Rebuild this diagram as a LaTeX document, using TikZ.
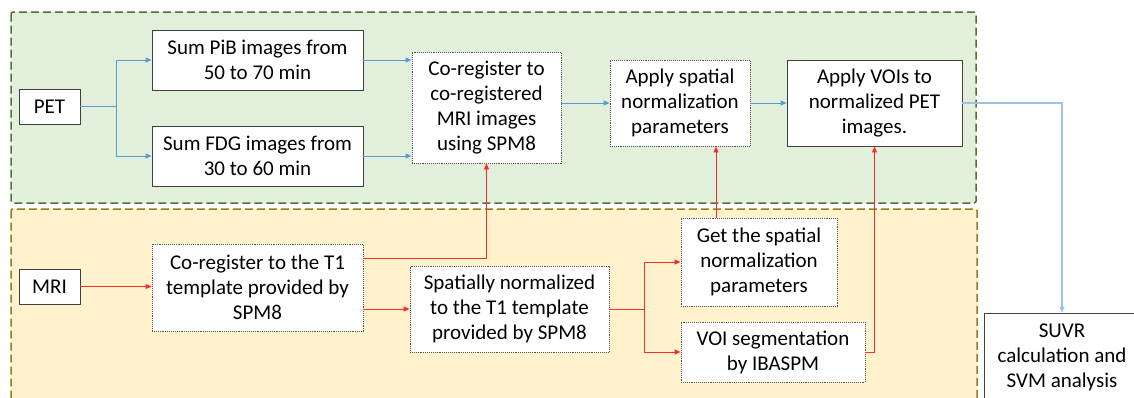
\documentclass[tikz,border=0pt]{standalone}
\usepackage{fontspec}
\setmainfont{Carlito}
\usetikzlibrary{arrows.meta}
\definecolor{bl}{HTML}{5B9BD5}
\definecolor{bllight}{HTML}{9DC3E6}
\definecolor{rd}{HTML}{FF2A2A}
\definecolor{gfill}{HTML}{E2EFDA}
\definecolor{gline}{HTML}{4F7330}
\definecolor{yfill}{HTML}{FFF2CC}
\definecolor{yline}{HTML}{9C7A1E}
\definecolor{bord}{HTML}{404040}
\tikzset{
  solidbox/.style={draw=bord, line width=0.9pt, fill=white, inner sep=0pt, align=center, font=\fontsize{21}{25}\selectfont},
  dotbox/.style={solidbox, draw=bord!90, densely dotted},
  region/.style={line width=1.5pt, dash pattern=on 8pt off 4pt, rounded corners=1.5pt},
  bluearrow/.style={draw=bl, line width=0.9pt, -{Triangle[length=6pt,width=5pt]}},
  redarrow/.style={draw=rd, line width=0.9pt, -{Triangle[length=6pt,width=5pt]}},
}
\begin{document}
\begin{tikzpicture}[x=1pt,y=-1pt]
\clip (0,0) rectangle (1134,397);
\fill[white] (0,0) rectangle (1134,397);
% regions
\draw[region, draw=gline, fill=gfill] (11,12) rectangle (976,203);
\draw[region, draw=yline, fill=yfill] (11,209) rectangle (977,410);
% nodes
\node[solidbox, minimum width=61pt, minimum height=35pt] (pet) at (49.5,106.5) {PET};
\node[solidbox, minimum width=211pt, minimum height=60pt] (pib) at (257.5,60) {Sum PiB images from\\50 to 70 min};
\node[solidbox, minimum width=211pt, minimum height=60pt] (fdg) at (257.5,156) {Sum FDG images from\\30 to 60 min};
\node[dotbox, minimum width=149pt, minimum height=111pt] (coreg) at (486.5,107.5) {Co-register to\\co-registered\\MRI images\\using SPM8};
\node[dotbox, minimum width=140pt, minimum height=86pt] (apply) at (680,103) {Apply spatial\\normalization\\parameters};
\node[solidbox, minimum width=175pt, minimum height=86pt] (vois) at (874.5,103) {Apply VOIs to\\normalized PET\\images.};
\node[solidbox, minimum width=156pt, minimum height=88pt] (suvr) at (1062,357) {SUVR\\calculation and\\SVM analysis};
\node[solidbox, minimum width=61pt, minimum height=35pt] (mri) at (49.5,286.5) {MRI};
\node[dotbox, minimum width=211pt, minimum height=87pt] (cot1) at (257.5,287.5) {Co-register to the T1\\template provided by\\SPM8};
\node[dotbox, minimum width=199pt, minimum height=86pt] (spat) at (509.5,309) {Spatially normalized\\to the T1 template\\provided by SPM8};
\node[dotbox, minimum width=156pt, minimum height=88pt] (get) at (759,262) {Get the spatial\\normalization\\parameters};
\node[dotbox, minimum width=184pt, minimum height=60pt] (voi) at (773,352) {VOI segmentation\\by IBASPM};
% blue connectors
\draw[bluearrow] (pet.east) -- ++(36,0) |- (pib.west);
\draw[bluearrow] (pet.east) -- ++(36,0) |- (fdg.west);
\draw[bluearrow] (pib.east) -- (pib.east -| coreg.west);
\draw[bluearrow] (fdg.east) -- (fdg.east -| coreg.west);
\draw[bluearrow] (apply.west -| coreg.east) -- (apply.west);
\draw[bluearrow] (apply.east) -- (vois.west);
\draw[bluearrow, draw=bllight, line width=1.3pt] (vois.east) -| (suvr.north);
% red connectors
\draw[redarrow] (mri.east) -- (mri.east -| cot1.west);
\draw[redarrow] ([yshift=29.5pt]cot1.east) -| (coreg.south);
\draw[redarrow] (spat.west -| cot1.east) -- (spat.west);
\draw[redarrow] (spat.east) -- ++(35,0) |- (get.west);
\draw[redarrow] (spat.east) -- ++(35,0) |- (voi.west);
\draw[redarrow] ([xshift=-43pt]get.north) -- ([xshift=-43pt]get.north |- apply.south);
\draw[redarrow] (voi.east) -| (vois.south);
\end{tikzpicture}
\end{document}
